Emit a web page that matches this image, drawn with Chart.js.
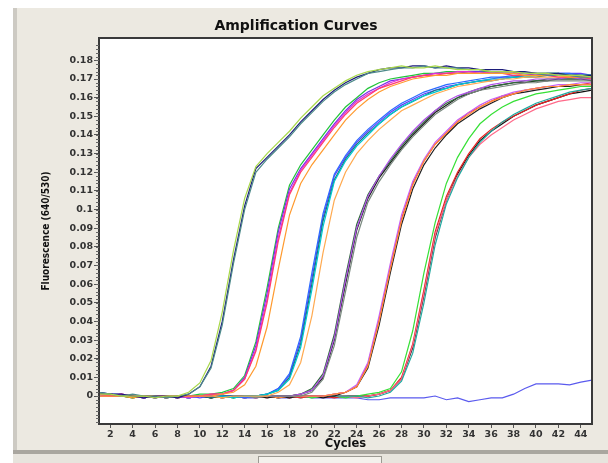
<!DOCTYPE html>
<html>
<head>
<meta charset="utf-8">
<title>Amplification Curves</title>
<script src="https://cdn.jsdelivr.net/npm/chart.js@4.4.1/dist/chart.umd.min.js"></script>
<style>
    body { margin: 0; background: #fff; width: 608px; height: 463px; overflow: hidden; position: relative; }
    #panel { position: absolute; left: 13px; top: 8px; width: 595px; height: 442px; background: #ece9e1; border-left: 4px solid #cdcac3; box-sizing: border-box; }
    #panel-edge { position: absolute; left: 13px; top: 450px; width: 595px; height: 4px; background: #a9a69f; }
    #footer { position: absolute; left: 13px; top: 454px; width: 595px; height: 9px; background: #e7e4dd; }
    #thumb { position: absolute; left: 258px; top: 456px; width: 122px; height: 6px; background: #f3f1ec; border: 1px solid #9c9a93; }
    #wrap { position: absolute; left: 0; top: 0; width: 596px; height: 463px; }
</style>
</head>
<body>
<div id="panel"></div>
<div id="panel-edge"></div>
<div id="footer"></div>
<div id="thumb"></div>
<div id="wrap"><canvas id="ampChart" width="596" height="463"></canvas></div>

<script>
// Cycle numbers and axis ticks
const cycles = [1,2,3,4,5,6,7,8,9,10,11,12,13,14,15,16,17,18,19,20,21,22,23,24,25,26,27,28,29,30,31,32,33,34,35,36,37,38,39,40,41,42,43,44,45];
const xTicks = [2,4,6,8,10,12,14,16,18,20,22,24,26,28,30,32,34,36,38,40,42,44];
const yTicks = [0,0.01,0.02,0.03,0.04,0.05,0.06,0.07,0.08,0.09,0.1,0.11,0.12,0.13,0.14,0.15,0.16,0.17,0.18];
const yLabels = ['0','0.01','0.02','0.03','0.04','0.05','0.06','0.07','0.08','0.09','0.1','0.11','0.12','0.13','0.14','0.15','0.16','0.17','0.18'];

// Group A (earliest)
const a1 = [0.002,0.001,0.001,0.000,-0.001,0.000,0.000,-0.001,0.001,0.005, 0.016,0.040,0.073,0.102,0.122,0.128,0.134,0.140,0.147,0.153, 0.159,0.164,0.168,0.171,0.173,0.175,0.176,0.176,0.177,0.177, 0.176,0.177,0.176,0.176,0.175,0.175,0.175,0.174,0.174,0.173, 0.173,0.173,0.172,0.172,0.172];
const a2 = [0.001,0.001,0.000,0.000,0.000,-0.001,0.000,0.000,0.002,0.007, 0.019,0.045,0.078,0.106,0.123,0.130,0.136,0.142,0.149,0.155, 0.161,0.165,0.169,0.172,0.174,0.175,0.176,0.177,0.176,0.176, 0.177,0.176,0.175,0.175,0.175,0.174,0.174,0.174,0.173,0.173, 0.173,0.172,0.172,0.172,0.171];
const a3 = [0.002,0.001,0.000,0.001,0.000,0.000,-0.001,0.000,0.001,0.005, 0.015,0.038,0.071,0.100,0.120,0.127,0.133,0.139,0.146,0.152, 0.158,0.163,0.167,0.170,0.173,0.174,0.175,0.176,0.176,0.177, 0.176,0.176,0.176,0.175,0.175,0.174,0.174,0.174,0.173,0.173, 0.172,0.172,0.172,0.171,0.171];

// Group B
const b1 = [0.001,0.001,0.000,-0.001,0.000,0.000,-0.001,0.000,0.000,0.001, 0.001,0.002,0.004,0.011,0.029,0.058,0.090,0.113,0.124,0.132, 0.140,0.148,0.155,0.160,0.165,0.168,0.170,0.171,0.172,0.173, 0.173,0.174,0.174,0.174,0.174,0.174,0.174,0.174,0.173,0.173, 0.173,0.173,0.172,0.172,0.172];
const b2 = [0.000,0.000,0.001,0.000,-0.001,0.000,0.000,0.000,-0.001,0.000, 0.001,0.001,0.003,0.009,0.025,0.052,0.085,0.109,0.121,0.129, 0.137,0.145,0.152,0.158,0.162,0.165,0.168,0.170,0.171,0.172, 0.173,0.173,0.174,0.174,0.173,0.174,0.173,0.173,0.173,0.173, 0.172,0.172,0.172,0.171,0.171];
const b3 = [0.001,0.000,0.000,0.000,0.000,-0.001,0.000,-0.001,0.000,0.000, 0.000,0.001,0.003,0.010,0.027,0.055,0.088,0.111,0.122,0.130, 0.138,0.146,0.153,0.159,0.163,0.166,0.169,0.170,0.171,0.172, 0.173,0.173,0.173,0.174,0.174,0.173,0.173,0.173,0.173,0.172, 0.172,0.172,0.172,0.172,0.171];
const b4 = [0.000,0.000,0.000,-0.001,0.000,0.000,0.000,0.000,0.000,0.000, 0.000,0.001,0.002,0.006,0.016,0.037,0.068,0.097,0.114,0.124, 0.132,0.140,0.148,0.154,0.159,0.163,0.166,0.168,0.170,0.171, 0.172,0.172,0.173,0.173,0.173,0.173,0.173,0.173,0.172,0.172, 0.172,0.172,0.171,0.171,0.171];
const b5 = [0.001,0.000,0.000,0.000,0.000,0.000,-0.001,0.000,0.000,0.000, 0.001,0.001,0.003,0.009,0.024,0.050,0.083,0.108,0.120,0.128, 0.136,0.144,0.151,0.157,0.161,0.165,0.167,0.169,0.171,0.172, 0.172,0.173,0.173,0.173,0.173,0.173,0.173,0.172,0.172,0.172, 0.172,0.171,0.171,0.171,0.170];

// Group C
const c1 = [0.001,0.001,0.000,0.000,-0.001,0.000,0.000,0.000,0.000,-0.001, 0.000,0.000,0.000,0.000,0.000,0.001,0.004,0.011,0.030,0.063, 0.096,0.118,0.128,0.136,0.142,0.147,0.152,0.156,0.159,0.162, 0.164,0.166,0.167,0.168,0.169,0.170,0.171,0.171,0.172,0.172, 0.172,0.173,0.173,0.173,0.172];
const c2 = [0.000,0.000,0.000,0.000,0.000,0.000,-0.001,0.000,-0.001,0.000, 0.000,0.000,-0.001,0.000,0.000,0.001,0.003,0.009,0.026,0.057, 0.091,0.115,0.126,0.134,0.140,0.146,0.151,0.155,0.158,0.161, 0.163,0.165,0.167,0.168,0.169,0.170,0.170,0.171,0.171,0.172, 0.172,0.172,0.172,0.172,0.172];
const c3 = [0.001,0.000,0.000,0.000,0.000,-0.001,0.000,0.000,0.000,0.000, -0.001,0.000,0.000,0.000,0.000,0.001,0.003,0.010,0.028,0.060, 0.094,0.116,0.127,0.135,0.141,0.146,0.151,0.155,0.158,0.161, 0.164,0.165,0.167,0.168,0.169,0.169,0.170,0.171,0.171,0.171, 0.172,0.172,0.172,0.171,0.171];
const c4 = [0.000,0.000,0.000,0.000,0.000,0.000,0.000,-0.001,0.000,0.000, 0.000,-0.001,0.000,0.000,0.000,0.000,0.002,0.006,0.018,0.043, 0.077,0.105,0.120,0.130,0.137,0.143,0.148,0.153,0.156,0.159, 0.162,0.164,0.166,0.167,0.168,0.169,0.170,0.170,0.171,0.171, 0.171,0.171,0.171,0.171,0.171];
const c5 = [0.000,0.001,0.000,0.000,0.000,0.000,0.000,0.000,-0.001,0.000, 0.000,0.000,0.000,-0.001,0.000,0.001,0.004,0.012,0.032,0.066, 0.098,0.119,0.129,0.137,0.143,0.148,0.153,0.157,0.160,0.163, 0.165,0.167,0.168,0.169,0.170,0.171,0.171,0.172,0.172,0.172, 0.173,0.173,0.173,0.172,0.172];

// Group D
const d1 = [0.001,0.000,0.000,0.000,0.000,0.000,0.000,-0.001,0.000,0.000, 0.000,0.000,-0.001,0.000,0.000,0.000,0.000,0.000,0.001,0.004, 0.012,0.033,0.064,0.092,0.108,0.118,0.126,0.134,0.141,0.147, 0.153,0.157,0.160,0.163,0.165,0.166,0.167,0.168,0.169,0.169, 0.170,0.170,0.170,0.170,0.170];
const d2 = [0.000,0.000,0.000,0.000,-0.001,0.000,0.000,0.000,0.000,0.000, -0.001,0.000,0.000,0.000,0.000,-0.001,0.000,0.000,0.001,0.003, 0.010,0.030,0.060,0.089,0.106,0.117,0.125,0.133,0.140,0.146, 0.152,0.156,0.160,0.162,0.164,0.166,0.167,0.168,0.168,0.169, 0.169,0.170,0.170,0.170,0.169];
const d3 = [0.000,0.001,0.000,0.000,0.000,0.000,-0.001,0.000,0.000,0.000, 0.000,0.000,0.000,-0.001,0.000,0.000,0.000,0.000,0.001,0.003, 0.011,0.031,0.062,0.090,0.107,0.118,0.127,0.135,0.142,0.148, 0.153,0.158,0.161,0.163,0.165,0.167,0.168,0.169,0.169,0.170, 0.170,0.170,0.171,0.170,0.170];
const d4 = [0.001,0.000,0.000,0.000,0.000,-0.001,0.000,0.000,0.000,0.000, 0.000,0.000,0.000,0.000,-0.001,0.000,0.000,0.000,0.000,0.002, 0.009,0.027,0.056,0.085,0.104,0.115,0.124,0.132,0.139,0.145, 0.151,0.155,0.159,0.162,0.164,0.165,0.166,0.167,0.168,0.168, 0.169,0.169,0.169,0.169,0.169];

// Group E
const e1 = [0.000,0.000,0.000,0.000,0.000,0.000,0.000,0.000,-0.001,0.000, 0.000,0.000,0.000,0.000,-0.001,0.000,0.000,0.000,0.000,0.000, 0.000,0.001,0.002,0.006,0.018,0.043,0.071,0.097,0.115,0.127, 0.136,0.142,0.148,0.152,0.156,0.159,0.161,0.163,0.164,0.165, 0.166,0.167,0.167,0.168,0.168];
const e2 = [0.001,0.000,0.000,0.000,0.000,-0.001,0.000,0.000,0.000,0.000, 0.000,-0.001,0.000,0.000,0.000,0.000,-0.001,0.000,0.000,0.000, 0.000,0.001,0.002,0.005,0.016,0.040,0.068,0.094,0.113,0.126, 0.135,0.141,0.147,0.151,0.155,0.158,0.160,0.162,0.164,0.165, 0.166,0.166,0.167,0.167,0.167];
const e3 = [0.000,0.001,0.000,0.000,0.000,0.000,0.000,-0.001,0.000,0.000, 0.000,0.000,0.000,-0.001,0.000,0.000,0.000,0.000,-0.001,0.000, 0.000,0.001,0.002,0.005,0.017,0.041,0.069,0.095,0.114,0.126, 0.135,0.141,0.147,0.152,0.155,0.158,0.161,0.162,0.164,0.165, 0.166,0.166,0.167,0.167,0.168];
const e4 = [0.001,0.000,0.000,-0.001,0.000,0.000,0.000,0.000,0.000,0.000, -0.001,0.000,0.000,0.000,0.000,0.000,0.000,-0.001,0.000,0.000, 0.000,0.000,0.002,0.005,0.015,0.038,0.066,0.092,0.111,0.124, 0.133,0.140,0.146,0.150,0.154,0.157,0.160,0.162,0.163,0.164, 0.165,0.166,0.166,0.167,0.167];

// Group F (latest)
const f1 = [0.001,0.000,0.000,0.000,-0.001,0.000,0.000,0.000,0.000,0.000, 0.000,0.000,-0.001,0.000,0.000,0.000,0.000,0.000,0.000,-0.001, 0.000,0.000,-0.001,0.000,0.001,0.002,0.004,0.013,0.035,0.066, 0.093,0.114,0.128,0.138,0.146,0.151,0.155,0.158,0.160,0.162, 0.163,0.164,0.165,0.166,0.166];
const f2 = [0.000,0.000,0.001,0.000,0.000,0.000,-0.001,0.000,0.000,0.000, 0.000,0.000,0.000,0.000,-0.001,0.000,0.000,-0.001,0.000,0.000, 0.000,-0.001,0.000,0.000,0.000,0.001,0.003,0.010,0.028,0.057, 0.088,0.107,0.120,0.130,0.138,0.143,0.147,0.150,0.153,0.156, 0.158,0.160,0.162,0.164,0.165];
const f3 = [0.001,0.001,0.000,0.000,0.000,0.000,0.000,0.000,-0.001,0.000, 0.000,-0.001,0.000,0.000,0.000,0.000,-0.001,0.000,0.000,0.000, -0.001,0.000,0.000,0.000,0.000,0.001,0.003,0.009,0.026,0.054, 0.085,0.105,0.119,0.129,0.137,0.142,0.146,0.150,0.153,0.156, 0.158,0.160,0.162,0.163,0.164];
const f4 = [0.000,0.000,0.000,0.000,0.000,-0.001,0.000,0.000,0.000,0.000, -0.001,0.000,0.000,0.000,0.000,-0.001,0.000,0.000,0.000,0.000, 0.000,0.000,0.000,-0.001,0.000,0.001,0.003,0.009,0.027,0.055, 0.086,0.105,0.118,0.128,0.135,0.140,0.144,0.148,0.151,0.154, 0.156,0.158,0.159,0.160,0.160];
const f5 = [0.001,0.000,0.000,0.000,0.000,0.000,0.000,-0.001,0.000,0.000, 0.000,0.000,0.000,-0.001,0.000,0.000,0.000,0.000,-0.001,0.000, 0.000,0.000,0.000,0.000,-0.001,0.000,0.002,0.008,0.023,0.050, 0.081,0.103,0.117,0.128,0.136,0.142,0.147,0.151,0.154,0.157, 0.159,0.161,0.163,0.164,0.165];

// Negative control
const neg = [0.002,0.001,0.001,0.000,-0.001,0.000,0.000,0.000,-0.001,0.000, 0.000,-0.001,0.000,-0.001,-0.001,0.000,-0.001,-0.001,0.000,-0.001, -0.001,-0.001,-0.001,-0.001,-0.002,-0.002,-0.001,-0.001,-0.001,-0.001, 0.000,-0.002,-0.001,-0.003,-0.002,-0.001,-0.001,0.001,0.004,0.0065, 0.0065,0.0065,0.006,0.0075,0.0085];

// Series and their line colours, drawn in this order
const series = [a2, a3, a1, b4, b5, b2, b3, b1, c4, c2, c3, c5, c1, d4, d3, d1, d2, e2, e1, e3, e4, f5, f4, f1, f2, f3, neg];
const colors = ['#a8d84a', '#4d8a8a', '#1c1c7a', '#ff9a2e', '#ff3c6e', '#e030d8', '#7a2ee8', '#22c43a',
                '#ffaa50', '#00c8d0', '#137a7a', '#2a6aff', '#5a3cff', '#7a8a80', '#b050e8', '#2f6b3c', '#1a1a1a',
                '#ff8a3a', '#c860f0', '#f03030', '#202020', '#20a8a0', '#ff6a8a', '#36e036', '#e82020', '#111111', '#5a5aee'];

document.addEventListener('DOMContentLoaded', function() {
    initChart();
});

function initChart() {
    const ctx = document.getElementById('ampChart').getContext('2d');

    const datasets = series.map((values, i) => ({
        data: cycles.map((c, j) => ({ x: c, y: values[j] })),
        borderColor: colors[i],
        borderWidth: 1.2,
        pointRadius: 0,
        tension: 0,
        fill: false
    }));

    // White plot background and the closed frame round it
    const plotFrame = {
        id: 'plotFrame',
        beforeDraw(chart) {
            const a = chart.chartArea;
            chart.ctx.save();
            chart.ctx.fillStyle = '#ffffff';
            chart.ctx.fillRect(a.left, a.top, a.right - a.left, a.bottom - a.top);
            chart.ctx.restore();
        },
        afterDraw(chart) {
            const a = chart.chartArea;
            const c = chart.ctx;
            c.save();
            c.strokeStyle = '#3a3a3a';
            c.lineWidth = 2;
            c.strokeRect(a.left, a.top, a.right - a.left, a.bottom - a.top);
            // minor ticks on the fluorescence axis
            const y = chart.scales.y;
            c.lineWidth = 1;
            c.strokeStyle = '#666';
            for (let v = -0.014; v <= 0.19; v += 0.002) {
                const py = Math.round(y.getPixelForValue(v)) + 0.5;
                c.beginPath();
                c.moveTo(a.left - 3, py);
                c.lineTo(a.left, py);
                c.stroke();
            }
            c.restore();
        }
    };

    const tickFont = { family: 'DejaVu Sans', size: 9.5, weight: 'bold' };

    new Chart(ctx, {
        type: 'line',
        data: { datasets: datasets },
        plugins: [plotFrame],
        options: {
            responsive: false,
            animation: false,
            layout: { padding: { left: 0, right: 4, top: 0, bottom: 11 } },
            plugins: {
                legend: { display: false },
                tooltip: { enabled: false },
                title: {
                    display: true,
                    text: 'Amplification Curves',
                    color: '#111',
                    font: { family: 'DejaVu Sans', size: 14, weight: 'bold', lineHeight: 1.2 },
                    padding: { top: 17.6, bottom: 3.6 }
                }
            },
            scales: {
                x: {
                    type: 'linear',
                    min: 1,
                    max: 45,
                    afterBuildTicks: function(scale) {
                        scale.ticks = xTicks.map(v => ({ value: v }));
                    },
                    afterFit: function(scale) {
                        scale.height = 28;
                    },
                    grid: { drawOnChartArea: false, tickLength: 4, color: '#555' },
                    border: { color: '#3a3a3a', width: 2 },
                    ticks: { color: '#333', font: tickFont, padding: 1, maxRotation: 0, autoSkip: false },
                    title: {
                        display: true,
                        text: 'Cycles',
                        color: '#111',
                        font: { family: 'DejaVu Sans', size: 11.5, weight: 'bold', lineHeight: 1.1 },
                        padding: { top: 0, bottom: 2 }
                    }
                },
                y: {
                    min: -0.015,
                    max: 0.192,
                    afterBuildTicks: function(scale) {
                        scale.ticks = yTicks.map(v => ({ value: v }));
                    },
                    afterFit: function(scale) {
                        scale.width = 99;
                    },
                    grid: { drawOnChartArea: false, tickLength: 5, color: '#555' },
                    border: { color: '#3a3a3a', width: 2 },
                    ticks: {
                        color: '#333',
                        font: tickFont,
                        padding: 1,
                        autoSkip: false,
                        callback: function(value, index) {
                            return yLabels[index];
                        }
                    },
                    title: {
                        display: true,
                        text: 'Fluorescence (640/530)',
                        color: '#111',
                        font: { family: "'Liberation Sans Narrow', 'DejaVu Sans Condensed', sans-serif", size: 10, weight: 'bold', lineHeight: 1.2 },
                        padding: { top: 40, bottom: 0 }
                    }
                }
            }
        }
    });
}
</script>
</body>
</html>
